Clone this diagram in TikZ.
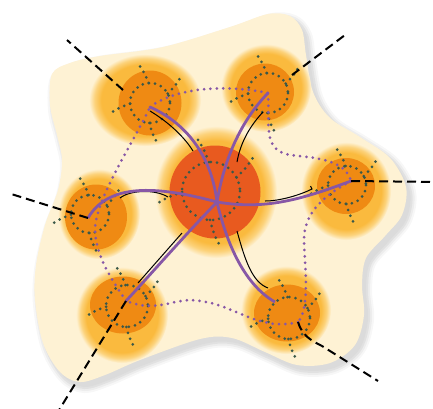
\documentclass[tikz,border=0pt]{standalone}
\usetikzlibrary{shapes.geometric}

\definecolor{cream}{RGB}{254,242,212}
\definecolor{haloA}{RGB}{250,186,62}
\definecolor{haloB}{RGB}{252,210,122}
\definecolor{cOrange}{RGB}{239,138,19}
\definecolor{cRed}{RGB}{232,90,31}
\definecolor{cPurple}{RGB}{135,87,166}
\definecolor{cGreen}{RGB}{58,88,72}

% soft glow around every disk
\pgfdeclareradialshading{halo}{\pgfpointorigin}{%
  color(0bp)=(haloA); color(19.5bp)=(haloA); color(22.5bp)=(haloB);
  color(25bp)=(cream); color(50bp)=(cream)}

% outline of the pale background region
\newcommand\blobpath{plot[smooth cycle, tension=0.55] coordinates {
  (52,74) (70,63) (100,56) (163,47) (230,27) (268,14) (290,16) (302,30)
  (306,55) (313,92) (330,118) (360,137) (390,158) (406,187) (402,215)
  (385,236) (366,258) (362,285) (364,315) (355,345) (330,363) (297,365)
  (265,352) (232,338) (200,339) (140,360) (105,375) (80,382) (60,372)
  (43,343) (35,300) (36,265) (45,225) (58,190) (62,160) (57,135) (50,105)}}

\tikzset{
  disk/.style={ellipse, fill=cOrange, inner sep=0pt},
  hubdisk/.style={ellipse, fill=cRed, inner sep=0pt},
  gdot/.style={draw=cGreen, line width=3pt, line cap=round, dash pattern=on 0pt off 6.2pt},
  pdot/.style={draw=cPurple, line width=3pt, line cap=round, dash pattern=on 0pt off 6.4pt},
  spoke/.style={draw=cPurple, line width=2.8pt},
  thinline/.style={draw=black, line width=1pt},
  dashline/.style={draw=black, line width=2pt, dash pattern=on 9pt off 5pt},
  % dotted ring with four curved arms
  spark/.pic={
    \draw[gdot] (0,0) circle [radius=#1];
    \foreach \a in {102,36,190,276}{
      \draw[gdot] (-\a+8:#1) .. controls (-\a+2:1.5*#1) .. (-\a-4:2*#1);
    }
  }
}

\begin{document}
\begin{tikzpicture}[x=1pt,y=-1pt]
\clip (0,0) rectangle (433,408);

% background region with its shadow
\begin{scope}[shift={(4,5)}]
  \foreach \w/\o in {12/0.03,8/0.04,4/0.05}{
    \draw[black, opacity=\o, line width=\w pt, line join=round] \blobpath;
  }
  \fill[black!14] \blobpath;
\end{scope}
\fill[cream] \blobpath;

% glows
\shade[shading=halo] (145,100) ellipse [x radius=56, y radius=46];
\shade[shading=halo] (266,88) ellipse [x radius=45, y radius=44];
\shade[shading=halo] (346,191) ellipse [x radius=45, y radius=49];
\shade[shading=halo] (99,214) ellipse [x radius=41, y radius=45];
\shade[shading=halo] (122,315) ellipse [x radius=46, y radius=48];
\shade[shading=halo] (286,310) ellipse [x radius=45, y radius=44];
\shade[shading=halo] (216,192) ellipse [x radius=61, y radius=66];

% disks
\node[disk, minimum width=63pt, minimum height=65pt] (nTL) at (150,103) {};
\node[disk, minimum width=58pt, minimum height=57pt] (nTR) at (265,92) {};
\node[disk, minimum width=58pt, minimum height=56pt] (nR) at (346,186) {};
\node[disk, minimum width=62pt, minimum height=65pt] (nL) at (96,217) {};
\node[disk, minimum width=66pt, minimum height=57pt] (nBL) at (123,305) {};
\node[disk, minimum width=66pt, minimum height=57pt] (nBR) at (287,313) {};
\node[hubdisk, minimum width=91pt, minimum height=93pt] (nC) at (215,192) {};

% dotted rings
\pic at (150,103) {spark=20};
\pic at (268,93) {spark=20};
\pic at (347,185) {spark=19};
\pic at (90,214) {spark=19};
\pic at (127,306) {spark=21};
\pic at (289,318) {spark=21};
\pic at (211,191) {spark=29};

% anchor points
\coordinate (hC) at (217,202);
\coordinate (hTL) at (150,107);
\coordinate (hTR) at (268,93);
\coordinate (hR) at (351,181);
\coordinate (hL) at (88,218);
\coordinate (hBL) at (126,301);
\coordinate (hBR) at (298,322);
\coordinate (eBR) at (275,302);

% thin black companions of the spokes
\coordinate (kTLa) at (150,111); \coordinate (kTLb) at (193,151);
\coordinate (kTRa) at (263,112); \coordinate (kTRb) at (237,162);
\coordinate (kRa) at (265,201);  \coordinate (kRb) at (312,189);
\coordinate (kLa) at (120,198);  \coordinate (kLb) at (168,197);
\coordinate (kBLa) at (182,233); \coordinate (kBLb) at (138,283);
\coordinate (kBRa) at (237,231); \coordinate (kBRb) at (268,288);
\draw[thinline] (kTLa) .. controls (170,123) and (185,138) .. (kTLb);
\draw[thinline] (kTRa) .. controls (248,128) and (240,145) .. (kTRb);
\draw[thinline] (kRa) .. controls (280,201) and (300,195) .. (kRb) -- ++(-1.5,-3);
\draw[thinline] (kLa) .. controls (130,190) and (155,189) .. (kLb);
\draw[thinline] (kBLa) -- (kBLb);
\draw[thinline] (kBRa) .. controls (245,260) and (252,282) .. (kBRb);

% spokes from the hub
\draw[spoke] (hC) .. controls (212,160) and (190,125) .. (hTL);
\draw[spoke] (hC) .. controls (224,160) and (240,122) .. (hTR);
\draw[spoke] (hC) .. controls (265,210) and (300,200) .. (hR);
\draw[spoke] (hC) .. controls (165,188) and (110,180) .. (hL);
\draw[spoke] (hC) .. controls (185,235) and (150,275) .. (hBL);
\draw[spoke] (hC) .. controls (227,245) and (245,285) .. (eBR);

% dotted ring through the outer nodes
\draw[pdot] (hTL) .. controls (178,86) and (230,85) .. (hTR);
\draw[pdot] (hTR) .. controls (270,125) and (262,150) .. (290,155)
                  .. controls (318,158) and (345,160) .. (hR);
\draw[pdot] (hR) .. controls (325,195) and (304,212) .. (304,240)
                 .. controls (305,270) and (310,308) .. (hBR);
\draw[pdot] (hBR) .. controls (260,332) and (235,305) .. (200,301)
                  .. controls (175,296) and (160,314) .. (hBL);
\draw[pdot] (hBL) .. controls (112,280) and (97,258) .. (95,232)
                  .. controls (94,200) and (135,140) .. (hTL);

% dashed leads leaving the region
\coordinate (dTLa) at (123,90);  \coordinate (dTLb) at (67,40);
\coordinate (dTRa) at (292,75);  \coordinate (dTRb) at (345,35);
\coordinate (dR) at (440,182);
\coordinate (dL) at (8,193);
\coordinate (dBL) at (56,415);
\coordinate (dBR) at (378,381);
\draw[dashline] (dTLa) -- (dTLb);
\draw[dashline] (dTRa) -- (dTRb);
\draw[dashline] (hR) -- (dR);
\draw[dashline] (hL) -- (dL);
\draw[dashline] (hBL) -- (dBL);
\draw[dashline] (hBR) .. controls (302,335) and (310,340) .. (322,346) -- (dBR);
\end{tikzpicture}
\end{document}
